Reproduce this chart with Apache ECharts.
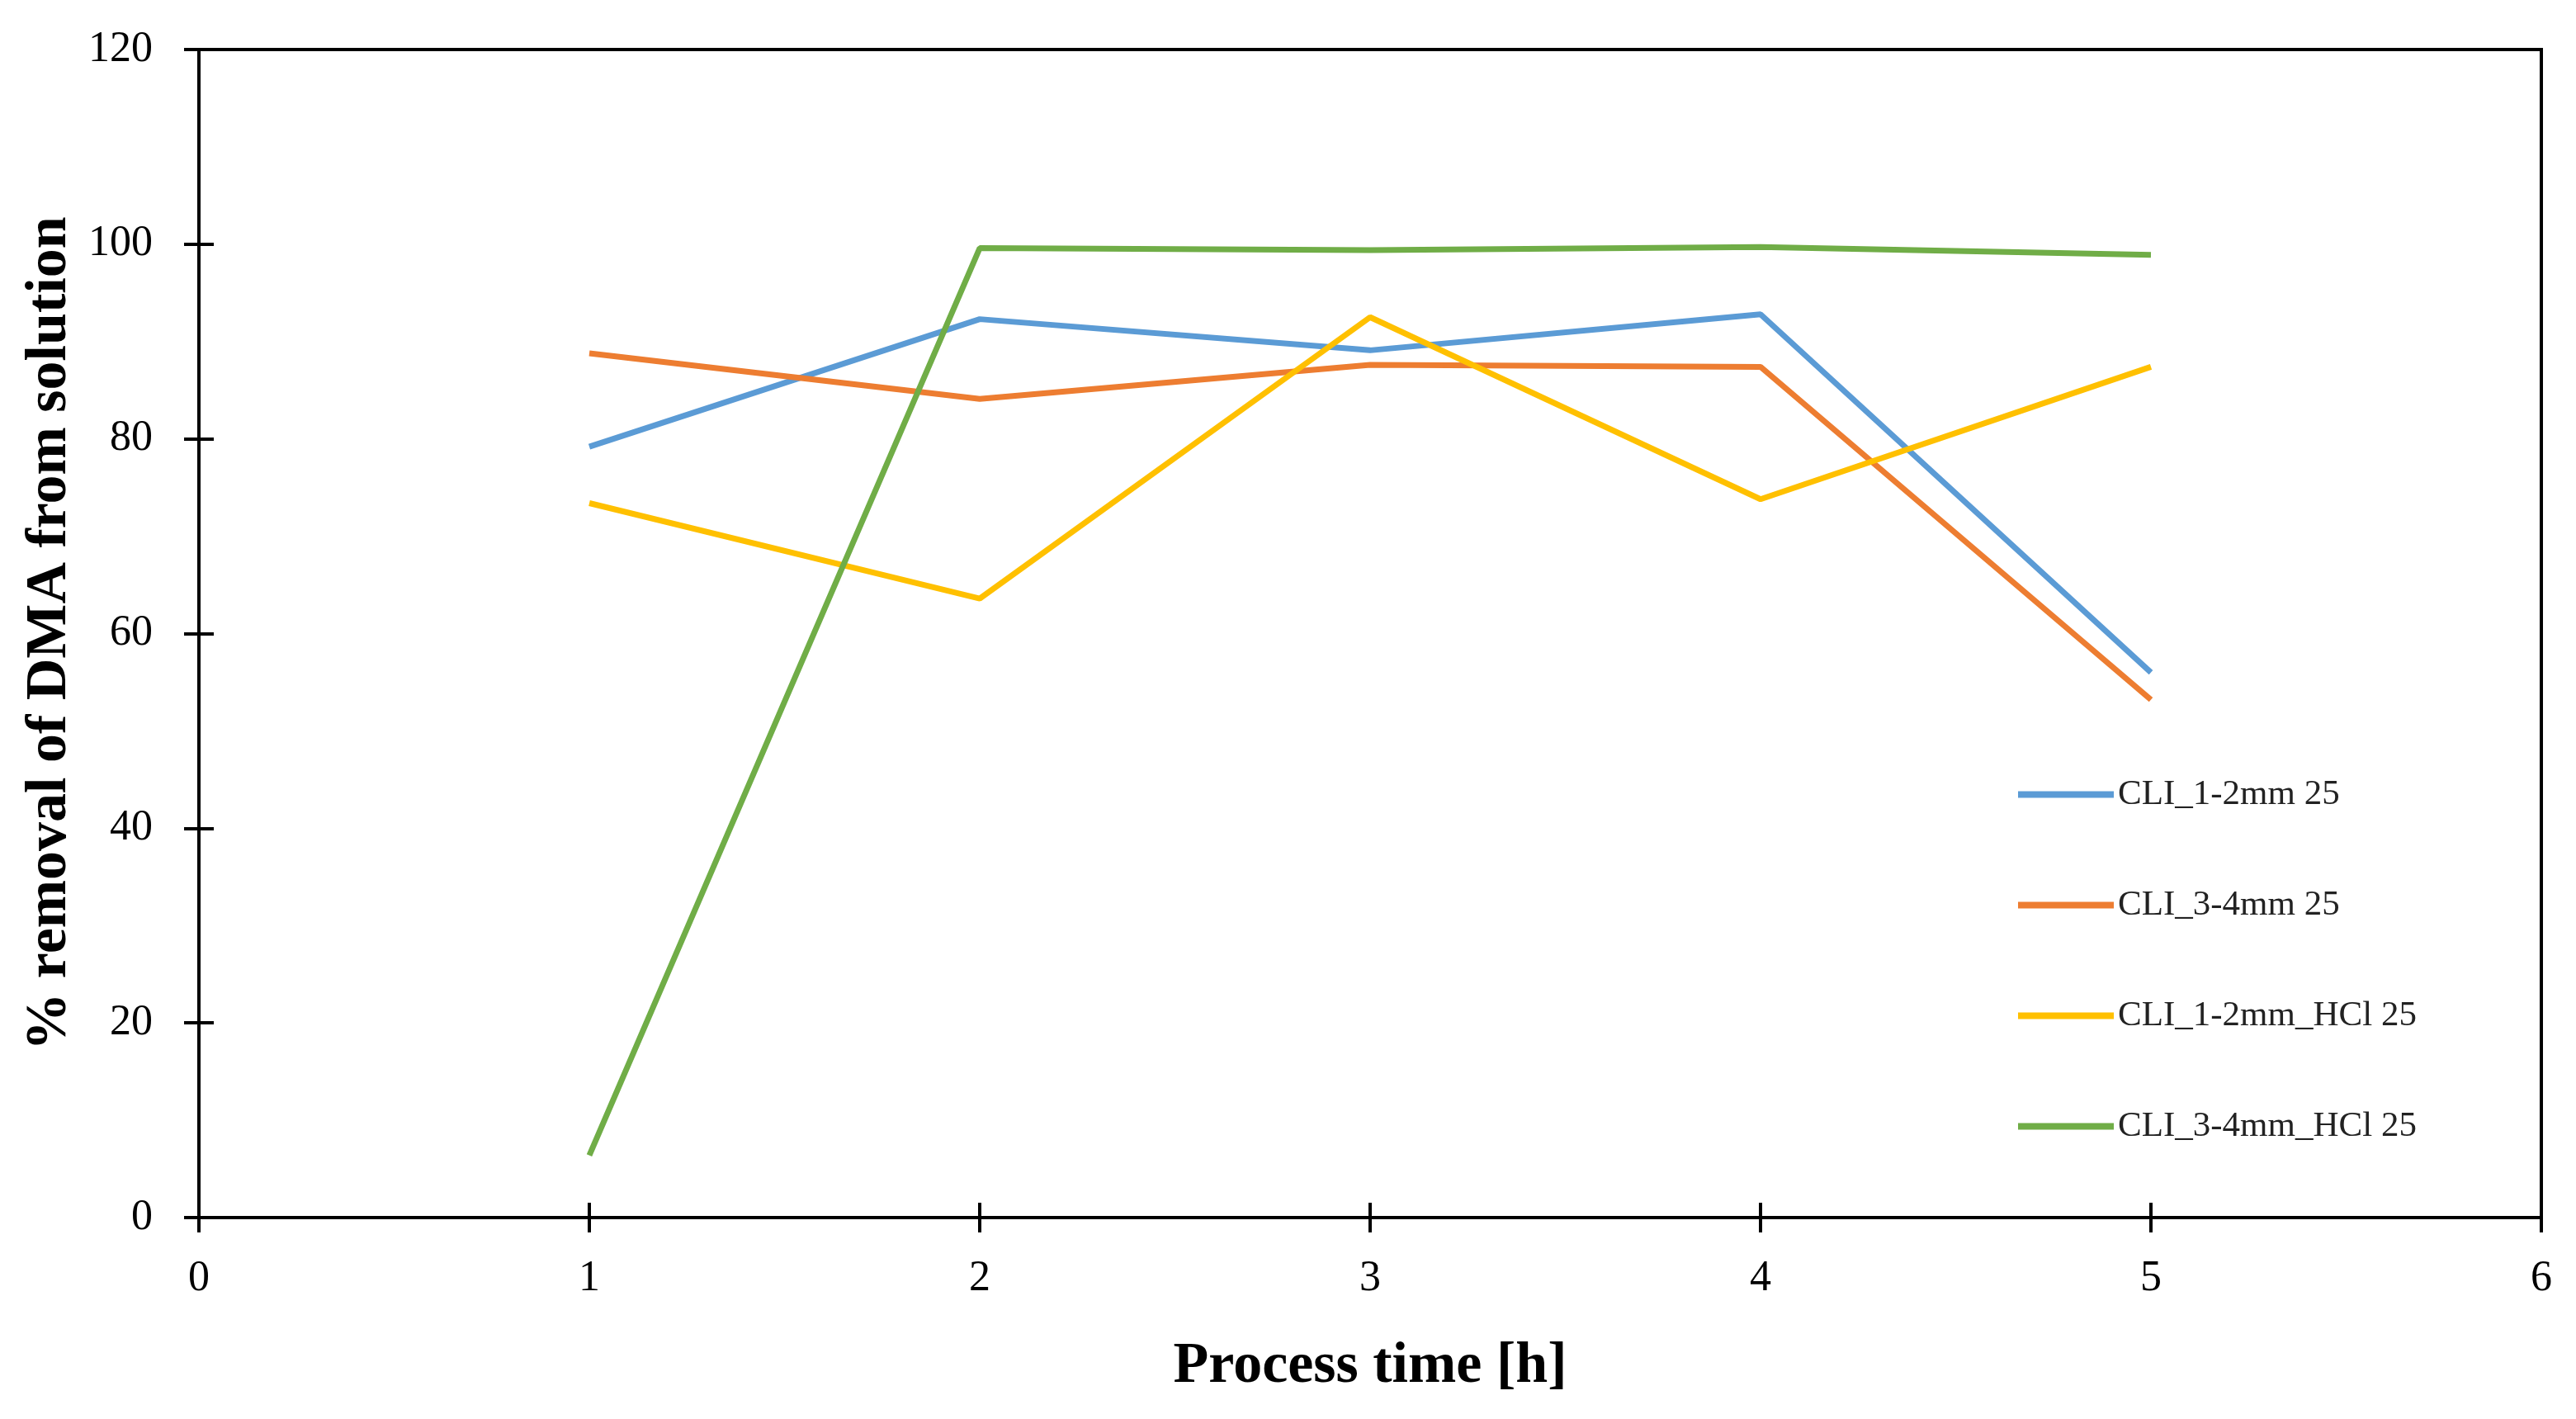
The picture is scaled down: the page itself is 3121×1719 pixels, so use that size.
<!DOCTYPE html>
<html>
<head>
<meta charset="utf-8">
<script src="https://cdn.jsdelivr.net/npm/echarts@6/dist/echarts.min.js"></script>
<style>
  html, body { margin: 0; padding: 0; background: #fff; }
  #container { width: 3121px; height: 1719px; }
</style>
</head>
<body>
<div id="container"></div>
<script>
// process time [h]
var hours = [1, 2, 3, 4, 5];
var seriesNames = ["CLI_1-2mm 25", "CLI_3-4mm 25", "CLI_1-2mm_HCl 25", "CLI_3-4mm_HCl 25"];
var cli12 = [79.2, 92.3, 89.1, 92.8, 56.0];
var cli34 = [88.8, 84.1, 87.6, 87.4, 53.2];
var cli12HCl = [73.4, 63.6, 92.5, 73.8, 87.4];
var cli34HCl = [6.4, 99.6, 99.4, 99.7, 98.9];
var colors = ["#5B9BD5", "#ED7D31", "#FFC000", "#70AD47"];

var font = "'Liberation Serif', 'Times New Roman', serif";

function pairs(vals) {
  return hours.map(function (h, i) { return [h, vals[i]]; });
}

var allData = [cli12, cli34, cli12HCl, cli34HCl];

var chart = echarts.init(document.getElementById("container"));

var option = {
  animation: false,
  backgroundColor: "#fff",
  grid: {
    left: 241, right: 42, top: 60, bottom: 244,
    show: true, borderColor: "#000", borderWidth: 4
  },
  legend: {
    orient: "vertical",
    left: 2440,
    top: 936,
    icon: "rect",
    itemWidth: 116,
    itemHeight: 8,
    itemGap: 91,
    data: seriesNames,
    textStyle: { fontFamily: font, fontSize: 43, color: "#222", lineHeight: 42 }
  },
  xAxis: [
    {
      type: "value", min: 0, max: 6, interval: 1,
      name: "Process time [h]", nameLocation: "middle", nameGap: 146,
      nameTextStyle: { fontFamily: font, fontSize: 70, fontWeight: "bold", color: "#000" },
      axisLine: { show: true, onZero: false, lineStyle: { color: "#000", width: 4 } },
      axisTick: { show: true, length: 18, lineStyle: { color: "#000", width: 4 } },
      axisLabel: { fontFamily: font, fontSize: 52, color: "#000", margin: 48 },
      splitLine: { show: false }
    },
    {
      type: "value", min: 0, max: 6, interval: 1, position: "bottom", offset: 0,
      axisLine: { show: false },
      axisTick: { show: true, inside: true, length: 18, lineStyle: { color: "#000", width: 4 } },
      axisLabel: { show: false },
      splitLine: { show: false }
    }
  ],
  yAxis: [
    {
      type: "value", min: 0, max: 120, interval: 20,
      name: "% removal of DMA from solution", nameLocation: "middle", nameGap: 142,
      nameTextStyle: { fontFamily: font, fontSize: 70, fontWeight: "bold", color: "#000" },
      axisLine: { show: true, onZero: false, lineStyle: { color: "#000", width: 4 } },
      axisTick: { show: true, length: 18, lineStyle: { color: "#000", width: 4 } },
      axisLabel: { fontFamily: font, fontSize: 52, color: "#000", margin: 56 },
      splitLine: { show: false }
    },
    {
      type: "value", min: 0, max: 120, interval: 20, position: "left", offset: 0,
      axisLine: { show: false },
      axisTick: { show: true, inside: true, length: 18, lineStyle: { color: "#000", width: 4 } },
      axisLabel: { show: false },
      splitLine: { show: false }
    }
  ],
  series: seriesNames.map(function (name, i) {
    return {
      name: name,
      type: "line",
      data: pairs(allData[i]),
      showSymbol: false,
      symbol: "none",
      color: colors[i],
      lineStyle: { color: colors[i], width: 7 }
    };
  })
};

chart.setOption(option);
</script>
</body>
</html>
